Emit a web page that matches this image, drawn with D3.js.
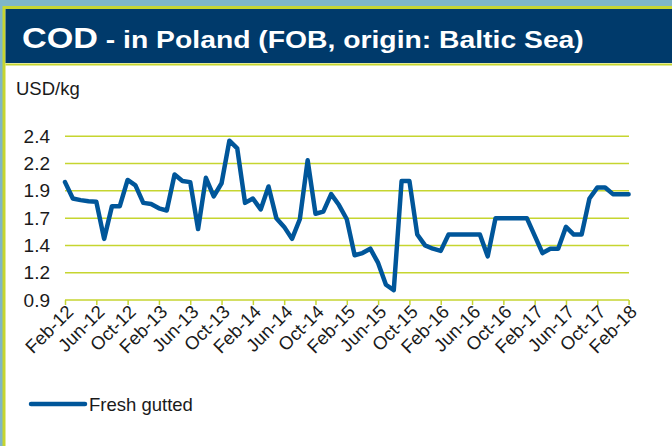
<!DOCTYPE html>
<html>
<head>
<meta charset="utf-8">
<script src="https://cdn.jsdelivr.net/npm/d3@7"></script>
<style>
  body { margin: 0; background: #ffffff; }
  svg { display: block; font-family: Arial, "Liberation Sans", sans-serif; }
</style>
</head>
<body>
<div id="chart"></div>
<script>
// COD price chart - Poland, FOB, Baltic Sea origin

// Monthly prices, Feb-12 .. Feb-18 (USD/kg)
var freshGutted = [
  1.98, 1.83, 1.815, 1.805, 1.80, 1.46, 1.76, 1.76, 2.00, 1.95, 1.79, 1.78,
  1.74, 1.72, 2.05, 1.99, 1.98, 1.55, 2.02, 1.85, 1.97, 2.36, 2.29, 1.79,
  1.83, 1.73, 1.94, 1.65, 1.57, 1.46, 1.64, 2.18, 1.69, 1.71, 1.87, 1.77,
  1.64, 1.31, 1.33, 1.37, 1.24, 1.04, 0.99, 1.99, 1.99, 1.50, 1.40, 1.37,
  1.35, 1.50, 1.50, 1.50, 1.50, 1.50, 1.30, 1.65, 1.65, 1.65, 1.65, 1.65,
  1.49, 1.33, 1.37, 1.37, 1.57, 1.50, 1.50, 1.83, 1.93, 1.93, 1.87, 1.87,
  1.87
];

// category axis: one entry per month
var fmt = d3.timeFormat("%b-%y");
var months = d3.timeMonth.range(new Date(2012, 1, 1), new Date(2018, 2, 1)).map(fmt);

var xTickLabels = ["Feb-12", "Jun-12", "Oct-12", "Feb-13", "Jun-13", "Oct-13",
  "Feb-14", "Jun-14", "Oct-14", "Feb-15", "Jun-15", "Oct-15", "Feb-16",
  "Jun-16", "Oct-16", "Feb-17", "Jun-17", "Oct-17", "Feb-18"];
var yTicks = [0.9, 1.15, 1.4, 1.65, 1.9, 2.15, 2.4];
var yTickLabels = ["0.9", "1.2", "1.4", "1.7", "1.9", "2.2", "2.4"];

var width = 672, height = 446;
var lime = "#c6d530";
var navy = "#003a6b";
var blue = "#00569a";
var ink = "#1a1a1a";

var svg = d3.select("#chart").append("svg")
  .attr("width", width)
  .attr("height", height);

// frame & title bar
svg.append("rect").attr("x", 0).attr("y", 0).attr("width", width).attr("height", height)
  .attr("fill", "#7fb6c7");
svg.append("rect").attr("x", 4).attr("y", 7.5).attr("width", width).attr("height", height)
  .attr("fill", "#ffffff").attr("stroke", lime).attr("stroke-width", 3);
svg.append("rect").attr("x", 5.5).attr("y", 9).attr("width", width).attr("height", 54)
  .attr("fill", navy);
svg.append("line").attr("x1", 5.5).attr("x2", width).attr("y1", 64.5).attr("y2", 64.5)
  .attr("stroke", lime).attr("stroke-width", 2);

// title, widened to run from x=22 to about x=584 like the slide
var title = svg.append("text")
  .attr("fill", "#ffffff")
  .attr("font-weight", "bold");
title.append("tspan").attr("font-size", 29).text("COD");
title.append("tspan").attr("font-size", 24).text(" - in Poland (FOB, origin: Baltic Sea)");
var titleW = title.node().getComputedTextLength();
title.attr("transform", "translate(22,48) scale(" + (562 / titleW) + ",1)");

// scales
var x = d3.scalePoint().domain(months).range([65, 628.6]);
var y = d3.scaleLinear().domain([0.9, 2.4]).range([300, 136.3]);

svg.append("text")
  .attr("x", 16).attr("y", 95)
  .attr("font-size", 18.5)
  .attr("fill", ink)
  .text("USD/kg");

// gridlines
svg.append("g")
  .selectAll("line")
  .data(yTicks.slice(1))
  .enter().append("line")
  .attr("x1", 65).attr("x2", 629)
  .attr("y1", function(d) { return y(d); })
  .attr("y2", function(d) { return y(d); })
  .attr("stroke", lime)
  .attr("stroke-width", 1.5);

// y axis (labels only)
var yAxis = d3.axisLeft(y)
  .tickValues(yTicks)
  .tickSize(0)
  .tickPadding(0)
  .tickFormat(function(d, i) { return yTickLabels[i]; });
var gy = svg.append("g").attr("transform", "translate(50,0)").call(yAxis);
gy.select(".domain").remove();
gy.selectAll("text")
  .attr("font-size", 19).attr("fill", ink)
  .attr("font-family", "Arial, 'Liberation Sans', sans-serif");

// x axis
var xAxis = d3.axisBottom(x).tickValues(xTickLabels).tickSize(5).tickPadding(2);
var gx = svg.append("g").attr("transform", "translate(0,300)").call(xAxis);
gx.select(".domain").attr("stroke", lime).attr("stroke-width", 1.5)
  .attr("d", "M65,0H629");
gx.selectAll(".tick line").attr("stroke", lime).attr("stroke-width", 1.5);
gx.selectAll("text")
  .attr("font-size", 18.5)
  .attr("fill", ink)
  .attr("font-family", "Arial, 'Liberation Sans', sans-serif")
  .attr("text-anchor", "end")
  .attr("dy", null)
  .attr("y", 0)
  .attr("transform", "translate(9,13) rotate(-45)");

// the series
var line = d3.line()
  .x(function(d, i) { return x(months[i]); })
  .y(function(d) { return y(d); });

svg.append("path")
  .datum(freshGutted)
  .attr("d", line)
  .attr("fill", "none")
  .attr("stroke", blue)
  .attr("stroke-width", 4.5)
  .attr("stroke-linejoin", "round")
  .attr("stroke-linecap", "round");

// legend
svg.append("line")
  .attr("x1", 31).attr("x2", 85).attr("y1", 404).attr("y2", 404)
  .attr("stroke", blue).attr("stroke-width", 4.5).attr("stroke-linecap", "round");
svg.append("text")
  .attr("x", 89).attr("y", 410.5)
  .attr("font-size", 18.5)
  .attr("fill", ink)
  .text("Fresh gutted");
</script>
</body>
</html>
